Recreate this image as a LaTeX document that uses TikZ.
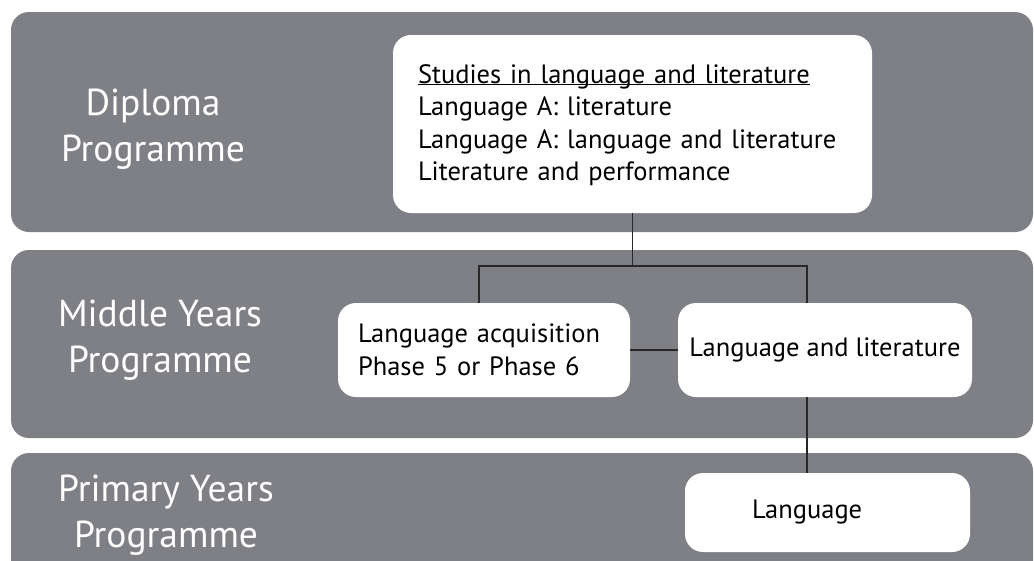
\documentclass[tikz,border=0pt]{standalone}
\usepackage{fontspec}
\setmainfont{PT Sans}
\usetikzlibrary{positioning}
\definecolor{bandgray}{RGB}{127,128,133}
\definecolor{linkgray}{RGB}{40,40,40}
\begin{document}
\begin{tikzpicture}[
  x=1pt, y=-1pt,
  band/.style={fill=bandgray, rounded corners=18pt},
  box/.style={rectangle, fill=white, rounded corners=18pt, font=\fontsize{26.5}{32.5}\selectfont},
  level/.style={text=white, align=center, font=\fontsize{37.5}{46}\selectfont},
  link/.style={draw=linkgray, line width=1.2pt},
  node distance=2cm
]
\clip (0,0) rectangle (1034,560);
\fill[white] (0,0) rectangle (1034,560);

\fill[band] (11,12) rectangle (1033,232);
\fill[band] (11,250) rectangle (1033,438);
\fill[band] (11,453) rectangle (1033,600);

\node[level] (dplabel) at (153,129) {Diploma\\Programme};
\node[level] (myplabel) at (160,340) {Middle Years\\Programme};
\node[level] (pyplabel) at (166,515) {Primary Years\\Programme};

\node[box, text width=429pt, inner xsep=25pt, minimum height=178pt, align=left] (dp) at (632.5,124) {\rule{0pt}{21pt}\underline{\smash{Studies in language and literature}}\\Language A: literature\\Language A: language and literature\\Literature and performance};
\node[box, text width=252pt, inner xsep=20pt, minimum height=94pt, align=left] (la) at (484,350) {Language acquisition\\Phase 5 or Phase 6};
\node[box, minimum width=294pt, minimum height=94pt, right of=la, node distance=341pt] (ll) {Language and literature};
\node[box, text width=151pt, inner xsep=67pt, minimum height=79pt, align=left, below of=ll, node distance=162.5pt, xshift=2.5pt] (lang) {Language};

\coordinate (forkl) at (479,266);
\coordinate (forkr) at (807,266);
\draw[link] (dp.south) -- (dp.south |- forkl);
\draw[link] (la.north -| forkl) |- (forkr) -- (ll.north -| forkr);
\draw[link] (la.east) -- (ll.west);
\draw[link] (ll.south -| forkr) -- (lang.north -| forkr);
\end{tikzpicture}
\end{document}
